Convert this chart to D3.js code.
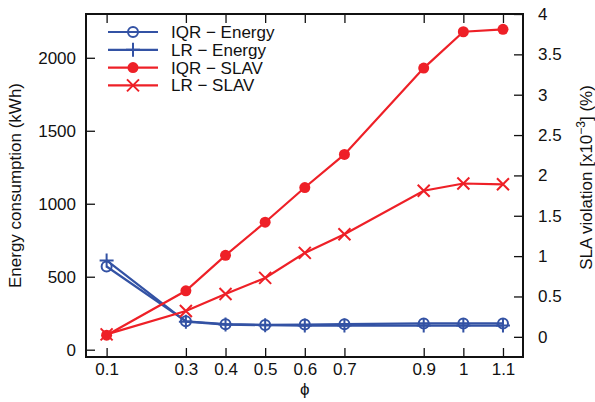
<!DOCTYPE html>
<html>
<head>
<meta charset="utf-8">
<script src="https://cdn.jsdelivr.net/npm/d3@7"></script>
<style>
  body { margin: 0; background: #fff; }
  text { font-family: "Liberation Sans", Arial, sans-serif; fill: #111; }
</style>
</head>
<body>
<svg width="595" height="402"></svg>
<script>
// phi values on the x axis
var phi = [0.1, 0.3, 0.4, 0.5, 0.6, 0.7, 0.9, 1.0, 1.1];
var xTicks = [0.1, 0.3, 0.4, 0.5, 0.6, 0.7, 0.9, 1, 1.1];

// energy (kWh), left axis
var iqrEnergy = [570, 195, 175, 170, 172, 175, 180, 180, 180];
var lrEnergy = [612, 192, 172, 168, 165, 165, 165, 165, 165];

// SLA violation (x10^-3 %), right axis
var iqrSlav = [0.02, 0.57, 1.01, 1.42, 1.85, 2.26, 3.33, 3.78, 3.81];
var lrSlav = [0.03, 0.32, 0.53, 0.73, 1.04, 1.27, 1.81, 1.90, 1.89];

var leftTicks = [0, 500, 1000, 1500, 2000];
var rightTicks = [0, 0.5, 1, 1.5, 2, 2.5, 3, 3.5, 4];

var blue = "#3352a4";
var red = "#ee2027";

var box = {left: 86, right: 523, top: 14, bottom: 357};

var svg = d3.select("svg");

var xScale = d3.scaleLinear().domain([0.048, 1.1505]).range([box.left, box.right]);
var yLeft = d3.scaleLinear().domain([-50, 2300]).range([box.bottom, box.top]);
var yRight = d3.scaleLinear().domain([-0.25, 4]).range([box.bottom, box.top]);

var plain = function(d) { return String(d); };

// axes with inward ticks
svg.append("g")
    .attr("transform", "translate(0," + box.bottom + ")")
    .call(d3.axisBottom(xScale).tickValues(xTicks).tickSizeInner(-9).tickSizeOuter(0).tickPadding(6)
        .tickFormat(plain))
    .call(function(g) { g.select(".domain").remove(); });

svg.append("g")
    .attr("transform", "translate(0," + box.top + ")")
    .call(d3.axisTop(xScale).tickValues(xTicks).tickSizeInner(-9).tickSizeOuter(0).tickFormat(""))
    .call(function(g) { g.select(".domain").remove(); });

svg.append("g")
    .attr("transform", "translate(" + box.left + ",0)")
    .call(d3.axisLeft(yLeft).tickValues(leftTicks).tickSizeInner(-9).tickSizeOuter(0).tickPadding(10)
        .tickFormat(plain))
    .call(function(g) { g.select(".domain").remove(); });

svg.append("g")
    .attr("transform", "translate(" + box.right + ",0)")
    .call(d3.axisRight(yRight).tickValues(rightTicks).tickSizeInner(-9).tickSizeOuter(0).tickPadding(15)
        .tickFormat(plain))
    .call(function(g) { g.select(".domain").remove(); });

svg.selectAll(".tick text").style("font-size", "17px").attr("fill", "#111");
svg.selectAll(".tick line").attr("stroke", "#111").attr("stroke-width", 1.3);

svg.append("rect")
    .attr("x", box.left).attr("y", box.top)
    .attr("width", box.right - box.left).attr("height", box.bottom - box.top)
    .attr("fill", "none").attr("stroke", "#111").attr("stroke-width", 2);

// axis titles
svg.append("text")
    .attr("transform", "translate(21," + ((box.top + box.bottom) / 2) + ") rotate(-90)")
    .attr("text-anchor", "middle").style("font-size", "17px")
    .text("Energy consumption (kWh)");

var rt = svg.append("text")
    .attr("transform", "translate(592," + ((box.top + box.bottom) / 2 - 8) + ") rotate(-90)")
    .attr("text-anchor", "middle").style("font-size", "17px");
rt.append("tspan").text("SLA violation [x10");
rt.append("tspan").attr("dy", -7).style("font-size", "12px").text("−3");
rt.append("tspan").attr("dy", 7).text("] (%)");

svg.append("text")
    .attr("x", xScale(0.6)).attr("y", 395)
    .attr("text-anchor", "middle").style("font-size", "17px")
    .text("ϕ");

// series
var series = [
  {name: "IQR − Energy", values: iqrEnergy, y: yLeft, color: blue, marker: "circle"},
  {name: "LR − Energy", values: lrEnergy, y: yLeft, color: blue, marker: "plus"},
  {name: "IQR − SLAV", values: iqrSlav, y: yRight, color: red, marker: "dot"},
  {name: "LR − SLAV", values: lrSlav, y: yRight, color: red, marker: "cross"}
];

function drawMarker(g, type, color) {
  if (type == "circle") {
    g.append("circle").attr("r", 5).attr("fill", "none").attr("stroke", color).attr("stroke-width", 2);
  } else if (type == "dot") {
    g.append("circle").attr("r", 5.5).attr("fill", color);
  } else if (type == "plus") {
    g.append("path").attr("d", "M-7,0H7M0,-7V7").attr("stroke", color).attr("stroke-width", 2);
  } else {
    g.append("path").attr("d", "M-6,-6L6,6M-6,6L6,-6").attr("stroke", color).attr("stroke-width", 2);
  }
}

series.forEach(function(s) {
  var line = d3.line()
      .x(function(d, i) { return xScale(phi[i]); })
      .y(function(d) { return s.y(d); });
  svg.append("path")
      .datum(s.values)
      .attr("d", line)
      .attr("fill", "none")
      .attr("stroke", s.color)
      .attr("stroke-width", 2.2);
  s.values.forEach(function(v, i) {
    var g = svg.append("g").attr("transform", "translate(" + xScale(phi[i]) + "," + s.y(v) + ")");
    drawMarker(g, s.marker, s.color);
  });
});

// legend
var legend = svg.append("g");
series.forEach(function(s, i) {
  var yy = 32 + i * 17.8;
  legend.append("line").attr("x1", 108).attr("x2", 158).attr("y1", yy).attr("y2", yy)
      .attr("stroke", s.color).attr("stroke-width", 2.2);
  drawMarker(legend.append("g").attr("transform", "translate(133," + yy + ")"), s.marker, s.color);
  legend.append("text").attr("x", 171).attr("y", yy + 6).style("font-size", "17px").text(s.name);
});
</script>
</body>
</html>
